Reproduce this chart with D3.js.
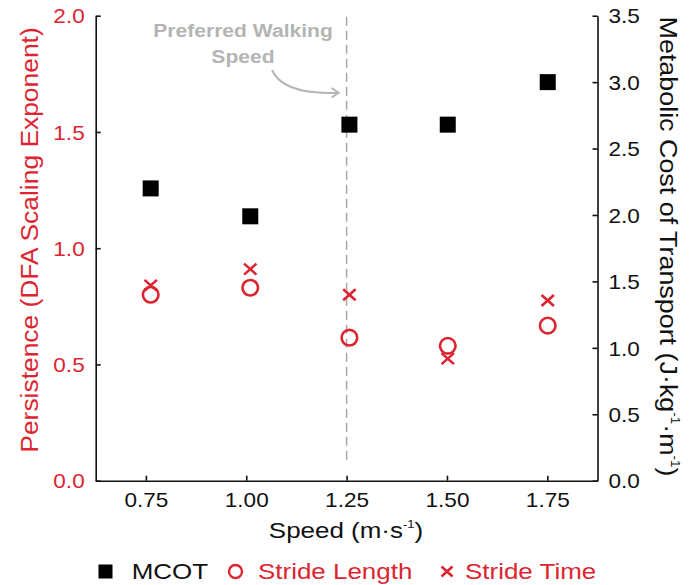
<!DOCTYPE html>
<html><head><meta charset="utf-8">
<script src="https://cdn.jsdelivr.net/npm/d3@7/dist/d3.min.js"></script>
<style>
html,body{margin:0;padding:0;background:#fff;}
text{font-family:"Liberation Sans",Arial,sans-serif;}
</style></head>
<body><svg id="c" width="694" height="585"></svg>
<script>
// ---- data ----
const speeds = [0.762, 1.010, 1.257, 1.502, 1.751];
const mcot = [2.20, 1.99, 2.68, 2.68, 3.00];
const strideLength = [0.80, 0.83, 0.615, 0.58, 0.667];
const strideTime = [0.84, 0.91, 0.80, 0.525, 0.775];
const xTicks = [0.75, 1.00, 1.25, 1.50, 1.75];
const leftTicks = [0.0, 0.5, 1.0, 1.5, 2.0];
const rightTicks = [0.0, 0.5, 1.0, 1.5, 2.0, 2.5, 3.0, 3.5];
const preferredSpeed = 1.25;

const RED = "#dc2530", BLACK = "#111", GRAY = "#b4b4b4";
const svg = d3.select("#c");
svg.append("rect").attr("width",694).attr("height",585).attr("fill","#fff");

const L = 95.7, R = 597.5, T = 15.7, B = 480.7;
const x = d3.scaleLinear().domain([0.625, 1.875]).range([L, R]);
const yL = d3.scaleLinear().domain([0, 2]).range([B, T]);
const yR = d3.scaleLinear().domain([0, 3.5]).range([B, T]);

const TS = 1.13; // horizontal text stretch
// axes
const gx = svg.append("g").attr("transform",`translate(0,${B})`)
  .call(d3.axisBottom(x).tickValues(xTicks).tickFormat(d3.format(".2f")).tickSize(-5).tickSizeOuter(0).tickPadding(12));
const gl = svg.append("g").attr("transform",`translate(${L},0)`)
  .call(d3.axisLeft(yL).tickValues(leftTicks).tickFormat(d3.format(".1f")).tickSize(-5).tickSizeOuter(0).tickPadding(11));
const gr = svg.append("g").attr("transform",`translate(${R},0)`)
  .call(d3.axisRight(yR).tickValues(rightTicks).tickFormat(d3.format(".1f")).tickSize(-5).tickSizeOuter(0).tickPadding(11));
[gx,gl,gr].forEach(g=>{
  g.select(".domain").attr("stroke",BLACK).attr("stroke-width",1.6);
  g.selectAll(".tick line").attr("stroke",BLACK).attr("stroke-width",1.6);
  g.selectAll("text").attr("font-size",20).attr("font-family","Liberation Sans, Arial, sans-serif");
});
gx.selectAll("text").attr("fill",BLACK).attr("transform",`scale(${TS},1)`);
gl.selectAll("text").attr("fill",RED).attr("x",-11/TS).attr("dy","0.36em").attr("transform",`scale(${TS},1)`);
gr.selectAll("text").attr("fill",BLACK).attr("x",11/TS).attr("dy","0.36em").attr("transform",`scale(${TS},1)`);

// preferred walking speed line
svg.append("line").attr("x1",x(preferredSpeed)).attr("x2",x(preferredSpeed))
  .attr("y1",T+1).attr("y2",B-16).attr("stroke","#a8a8a8").attr("stroke-width",1.5)
  .attr("stroke-dasharray","9,5");

// annotation
const ann = svg.append("g");
ann.append("text").attr("transform",`translate(243,37) scale(1.11,1)`).attr("text-anchor","middle")
  .attr("font-size",19).attr("font-weight","bold").attr("fill",GRAY).text("Preferred Walking");
ann.append("text").attr("transform",`translate(243,63) scale(1.11,1)`).attr("text-anchor","middle")
  .attr("font-size",19).attr("font-weight","bold").attr("fill",GRAY).text("Speed");
const ax = x(preferredSpeed) - 8;
ann.append("path").attr("d",`M272,70 Q283,95 ${ax},92.7`).attr("fill","none").attr("stroke",GRAY).attr("stroke-width",2);
ann.append("path").attr("d",`M${ax-7},88 L${ax},92.7 L${ax-7},97.5`).attr("fill","none").attr("stroke",GRAY).attr("stroke-width",2);

// markers
const SQ = 16, CR = 7.8, XH = 6.2, XV = 5.5;
svg.append("g").selectAll("rect").data(speeds).join("rect")
  .attr("x",(d)=>x(d)-SQ/2).attr("y",(d,i)=>yR(mcot[i])-SQ/2)
  .attr("width",SQ).attr("height",SQ).attr("fill","#000");
svg.append("g").selectAll("circle").data(speeds).join("circle")
  .attr("cx",d=>x(d)).attr("cy",(d,i)=>yL(strideLength[i])).attr("r",CR)
  .attr("fill","none").attr("stroke",RED).attr("stroke-width",2.6);
svg.append("g").selectAll("path").data(speeds).join("path")
  .attr("d",(d,i)=>{const cx=x(d), cy=yL(strideTime[i]);
    return `M${cx-XH},${cy-XV}L${cx+XH},${cy+XV}M${cx-XH},${cy+XV}L${cx+XH},${cy-XV}`;})
  .attr("stroke",RED).attr("stroke-width",2.6).attr("fill","none");

// axis titles
const xt = svg.append("text").attr("transform",`translate(346,538) scale(1.18,1)`).attr("text-anchor","middle")
  .attr("font-size",22).attr("fill",BLACK);
xt.append("tspan").text("Speed (m·s");
xt.append("tspan").attr("font-size",11).attr("dy",-10).text("-1");
xt.append("tspan").attr("dy",10).text(")");

svg.append("text").attr("transform",`translate(38,240) rotate(-90) scale(1.1,1)`).attr("text-anchor","middle")
  .attr("font-size",24).attr("fill",RED).text("Persistence (DFA Scaling Exponent)");

const rt = svg.append("text").attr("transform",`translate(660,246.5) rotate(90) scale(1.12,1)`).attr("text-anchor","middle")
  .attr("font-size",24).attr("fill",BLACK);
rt.append("tspan").text("Metabolic Cost of Transport (J·kg");
rt.append("tspan").attr("font-size",12).attr("dy",-11).text("-1");
rt.append("tspan").attr("dy",11).text("·m");
rt.append("tspan").attr("font-size",12).attr("dy",-11).text("-1");
rt.append("tspan").attr("dy",11).text(")");

// legend
const lg = svg.append("g");
const LY = 571.5;
lg.append("rect").attr("x",98.5).attr("y",LY-7).attr("width",14).attr("height",14).attr("fill","#000");
lg.append("text").attr("transform",`translate(131.7,579) scale(1.18,1)`).attr("font-size",22).attr("fill",BLACK).text("MCOT");
lg.append("circle").attr("cx",235.5).attr("cy",LY).attr("r",6.5).attr("fill","none").attr("stroke",RED).attr("stroke-width",2.4);
lg.append("text").attr("transform",`translate(258,579) scale(1.18,1)`).attr("font-size",22).attr("fill",RED).text("Stride Length");
lg.append("path").attr("d",`M${441.5},${LY-5}L${452.5},${LY+5}M${441.5},${LY+5}L${452.5},${LY-5}`)
  .attr("stroke",RED).attr("stroke-width",2.6);
lg.append("text").attr("transform",`translate(465,579) scale(1.18,1)`).attr("font-size",22).attr("fill",RED).text("Stride Time");
</script></body></html>
